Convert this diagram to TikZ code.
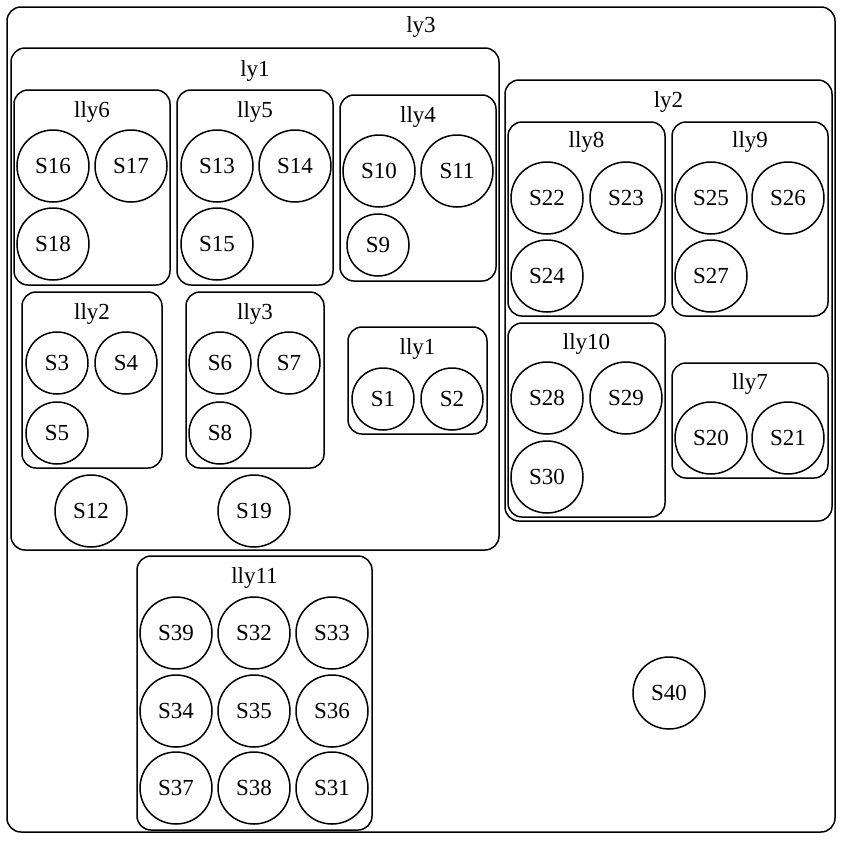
\documentclass[tikz,border=0pt]{standalone}
\usepackage{fontspec}
\setmainfont{Liberation Serif}
\usetikzlibrary{fit}
\tikzset{
  clbox/.style={draw, line width=1.5pt, rounded corners=14pt, inner sep=0pt},
  lab/.style={font=\fontsize{23}{27}\selectfont, inner sep=0pt},
  stnode/.style={draw, circle, line width=1.5pt, inner sep=0pt, font=\fontsize{23}{27}\selectfont}
}
\newcommand\clu[7]{\node[clbox, fit={(#2,#3) (#4,#5)}] (#1) {};
  \node[lab] (#1-t) at ({(#2+#4)/2},#7+2) {#6};}
\newcommand\stt[4]{\node[stnode, minimum size=#4pt] (#1) at (#2,#3) {#1};}
\begin{document}
\begin{tikzpicture}[x=1pt,y=-1pt]
\useasboundingbox (0,0) rectangle (843,841);
% outer
\clu{ly3}{7}{7}{835}{832}{ly3}{25}
\clu{ly1}{11}{48}{499}{550}{ly1}{69}
\clu{ly2}{505}{80}{832}{521}{ly2}{100}
% ly1 children
\clu{lly6}{14}{90}{170}{285}{lly6}{110}
\clu{lly5}{177}{90}{333}{285}{lly5}{110}
\clu{lly4}{340}{95}{496}{281}{lly4}{115}
\clu{lly2}{22}{292}{162}{468}{lly2}{312}
\clu{lly3}{186}{292}{324}{468}{lly3}{312}
\clu{lly1}{348}{327}{487}{434}{lly1}{347}
% ly2 children
\clu{lly8}{508}{122}{665}{316}{lly8}{140}
\clu{lly9}{672}{122}{828}{316}{lly9}{140}
\clu{lly10}{508}{323}{665}{517}{lly10}{342}
\clu{lly7}{672}{363}{828}{478}{lly7}{382}
% lly11
\clu{lly11}{137}{556}{372}{830}{lly11}{576}
% states
\stt{S16}{53}{166}{72}
\stt{S17}{131}{166}{72}
\stt{S18}{53}{244}{72}
\stt{S13}{217}{166}{72}
\stt{S14}{295}{166}{72}
\stt{S15}{217}{244}{72}
\stt{S10}{379}{171}{72}
\stt{S11}{457}{171}{72}
\stt{S9}{378}{245}{62}
\stt{S3}{57}{363}{62}
\stt{S4}{126}{363}{62}
\stt{S5}{57}{433}{62}
\stt{S6}{220}{363}{62}
\stt{S7}{289}{363}{62}
\stt{S8}{220}{433}{62}
\stt{S1}{383}{399}{62}
\stt{S2}{452}{399}{62}
\stt{S12}{91}{511}{72}
\stt{S19}{254}{511}{72}
\stt{S22}{547}{198}{72}
\stt{S23}{626}{198}{72}
\stt{S24}{547}{276}{72}
\stt{S25}{711}{198}{72}
\stt{S26}{788}{198}{72}
\stt{S27}{711}{276}{72}
\stt{S28}{547}{398}{72}
\stt{S29}{626}{398}{72}
\stt{S30}{547}{477}{72}
\stt{S20}{711}{438}{72}
\stt{S21}{788}{438}{72}
\stt{S39}{176}{633}{72}
\stt{S32}{254}{633}{72}
\stt{S33}{332}{633}{72}
\stt{S34}{176}{711}{72}
\stt{S35}{254}{711}{72}
\stt{S36}{332}{711}{72}
\stt{S37}{176}{788}{72}
\stt{S38}{254}{788}{72}
\stt{S31}{332}{788}{72}
\stt{S40}{669}{693}{72}
\end{tikzpicture}
\end{document}
